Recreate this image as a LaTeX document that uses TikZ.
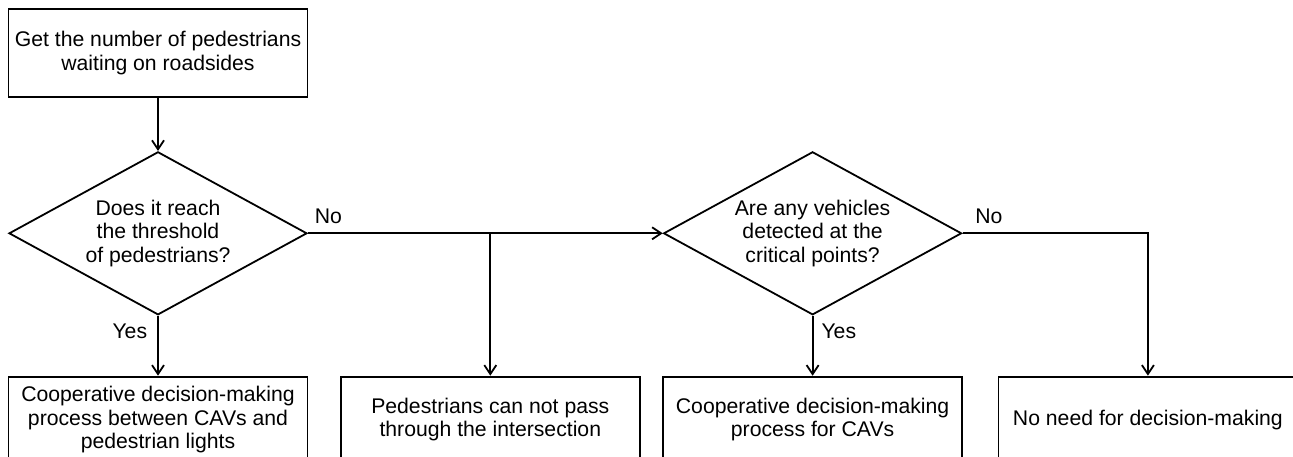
\documentclass[tikz,border=0pt]{standalone}
\usepackage{fontspec}
\setmainfont{Liberation Sans}
\usetikzlibrary{arrows.meta,positioning,shapes.geometric}

\begin{document}
\begin{tikzpicture}[
  process/.style={draw,line width=0.9pt,minimum width=149.5pt,minimum height=43pt,inner sep=0pt,align=center,font=\fontsize{10.6}{11.8}\selectfont},
  decision/.style={draw,diamond,line width=0.9pt,aspect=1.83,minimum width=149pt,minimum height=81.5pt,inner sep=0pt,align=center,font=\fontsize{10.6}{11.8}\selectfont},
  arrow/.style={-{Straight Barb[length=4.5pt,width=6pt]},line width=0.9pt},
  lbl/.style={inner sep=0pt,font=\fontsize{10.6}{11.8}\selectfont},
  node distance=30pt
]
\useasboundingbox (0,0) rectangle (646.5pt,-228pt);
\node[process,minimum height=44pt] (count) at (79pt,-26.5pt) {Get the number of pedestrians\\waiting on roadsides};
\node[decision,below=26.5pt of count] (check1) {Does it reach\\the threshold\\of pedestrians?};
\node[process,below=of check1] (res1) {Cooperative decision-making\\process between CAVs and\\pedestrian lights};
\node[process,right=15.75pt of res1] (res2) {Pedestrians can not pass\\through the intersection};
\node[process,right=10.75pt of res2] (res3) {Cooperative decision-making\\process for CAVs};
\node[process,right=17.25pt of res3] (res4) {No need for decision-making};
\node[decision,above=of res3] (check2) {Are any vehicles\\detected at the\\critical points?};
\coordinate (split) at (res2 |- check1.east);

\draw[arrow] (count) -- (check1);
\draw[arrow] (check1) -- (res1) node[lbl,pos=0,anchor=north east,xshift=-5pt,yshift=-3.5pt] {Yes};
\draw[arrow] (check1.east) -- (check2.west) node[lbl,pos=0,anchor=south west,xshift=3pt,yshift=4.5pt] {No};
\draw[arrow] (split) -- (res2);
\draw[arrow] (check2) -- (res3) node[lbl,pos=0,anchor=north west,xshift=4pt,yshift=-3.5pt] {Yes};
\draw[arrow] (check2.east) -| (res4) node[lbl,pos=0,anchor=south west,xshift=6pt,yshift=4.5pt] {No};
\end{tikzpicture}
\end{document}
